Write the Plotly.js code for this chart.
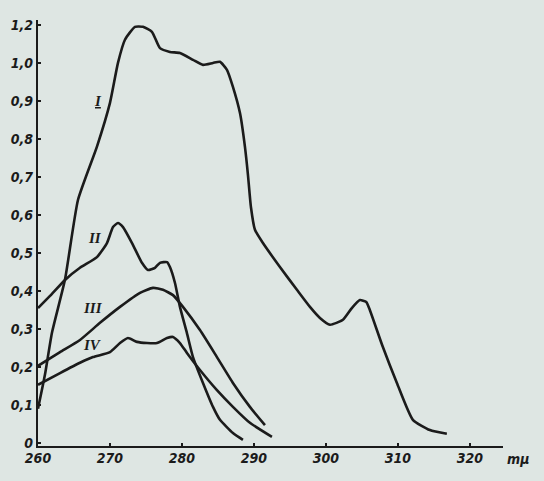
<!DOCTYPE html>
<html>
<head>
<meta charset="utf-8">
<script src="https://cdn.plot.ly/plotly-3.0.1.min.js"></script>
<style>
html,body{margin:0;padding:0;background:#dee6e3;}
#chart{width:544px;height:481px;}
</style>
</head>
<body>
<div id="chart"></div>
<script>
// Wavelength (mμ) and absorbance for each curve
const wlI  = [260.0,260.97,261.94,263.75,265.56,268.19,270.0,271.11,272.08,273.47,274.58,275.83,276.94,278.33,279.72,281.53,282.92,284.31,285.28,286.25,287.08,288.06,288.75,289.17,289.58,290.14,291.25,293.61,295.97,297.78,299.17,300.56,302.36,303.6,304.72,305.6,306.1,307.9,309.86,312.08,314.44,316.8];
const absI = [0.09,0.18,0.29,0.43,0.64,0.78,0.895,1.0,1.061,1.095,1.095,1.082,1.039,1.029,1.026,1.008,0.995,1.0,1.003,0.982,0.937,0.868,0.779,0.705,0.621,0.561,0.526,0.463,0.403,0.358,0.329,0.311,0.324,0.355,0.376,0.371,0.35,0.253,0.158,0.061,0.034,0.024];

const wlII  = [260.0,261.67,263.75,265.83,268.19,269.58,270.42,271.11,271.81,273.06,274.44,275.28,276.25,276.94,277.92,278.33,279.03,279.72,280.69,281.53,282.92,284.31,285.28,287.08,288.47];
const absII = [0.355,0.387,0.429,0.461,0.489,0.526,0.568,0.579,0.568,0.526,0.474,0.455,0.461,0.474,0.476,0.463,0.421,0.358,0.289,0.226,0.158,0.095,0.061,0.026,0.008];

const wlIII  = [260.0,263.06,265.83,268.61,271.39,274.17,275.97,277.36,278.75,280.14,282.5,284.86,287.08,289.44,291.53];
const absIII = [0.203,0.239,0.271,0.316,0.358,0.395,0.408,0.403,0.389,0.358,0.297,0.226,0.158,0.095,0.047];

const wlIV  = [260.0,263.06,265.83,267.64,270.0,271.39,272.5,273.75,275.14,276.53,277.92,278.75,279.72,280.69,282.5,284.86,287.08,289.44,292.5];
const absIV = [0.153,0.184,0.211,0.226,0.239,0.263,0.276,0.266,0.263,0.263,0.276,0.279,0.263,0.237,0.192,0.139,0.095,0.053,0.016];

const xTickVals = [260,270,280,290,300,310,320];
const xTickText = ['260','270','280','290','300','310','320'];
const yTickVals = [0,0.1,0.2,0.3,0.4,0.5,0.6,0.7,0.8,0.9,1.0,1.1];
const yTickText = ['0','0,1','0,2','0,3','0,4','0,5','0,6','0,7','0,8','0,9','1,0','1,2'];

const curveNames = ['I','II','III','IV'];
const labelX = [268.3,267.9,267.6,267.6];
const labelY = [0.90,0.54,0.355,0.258];

const ink = '#1b1b1b';
const lineStyle = {color: ink, width: 2.6, shape: 'spline', smoothing: 0.5};
const series = [[wlI,absI],[wlII,absII],[wlIII,absIII],[wlIV,absIV]];
const traces = series.map((s,i)=>({
  x: s[0], y: s[1], type: 'scatter', mode: 'lines',
  line: lineStyle, name: curveNames[i], hoverinfo: 'skip'
}));

const tickFont = {family: 'DejaVu Sans Condensed, Liberation Sans Narrow, sans-serif', size: 14, color: ink, style: 'italic', weight: 'bold'};

const annotations = curveNames.map((n,i)=>({
  x: labelX[i], y: labelY[i], xref: 'x', yref: 'y',
  text: i===0 ? '<u>'+n+'</u>' : n,
  showarrow: false,
  font: {family: 'Liberation Serif, DejaVu Serif, serif', size: 15, color: ink, style: 'italic', weight: 'bold'}
}));
annotations.push({
  x: 1.005, y: -0.008, xref: 'paper', yref: 'paper', xanchor: 'left', yanchor: 'top',
  text: 'mμ', showarrow: false,
  font: tickFont
});

const layout = {
  width: 544, height: 481,
  paper_bgcolor: '#dee6e3', plot_bgcolor: '#dee6e3',
  margin: {l: 38, r: 41, t: 20, b: 35},
  showlegend: false,
  xaxis: {
    range: [260, 324.6], showgrid: false, zeroline: false,
    showline: true, linecolor: ink, linewidth: 2.2,
    tickvals: xTickVals, ticktext: xTickText,
    ticks: 'inside', ticklen: 3, tickwidth: 1.5, tickcolor: ink,
    tickfont: tickFont, ticklabelstandoff: -2
  },
  yaxis: {
    range: [-0.008, 1.113], showgrid: false, zeroline: false,
    showline: true, linecolor: ink, linewidth: 2.2,
    tickvals: yTickVals, ticktext: yTickText,
    ticks: 'inside', ticklen: 3, tickwidth: 1.5, tickcolor: ink,
    tickfont: tickFont, ticklabelstandoff: 0
  },
  annotations: annotations
};

Plotly.newPlot('chart', traces, layout, {staticPlot: true, displayModeBar: false});
</script>
</body>
</html>
